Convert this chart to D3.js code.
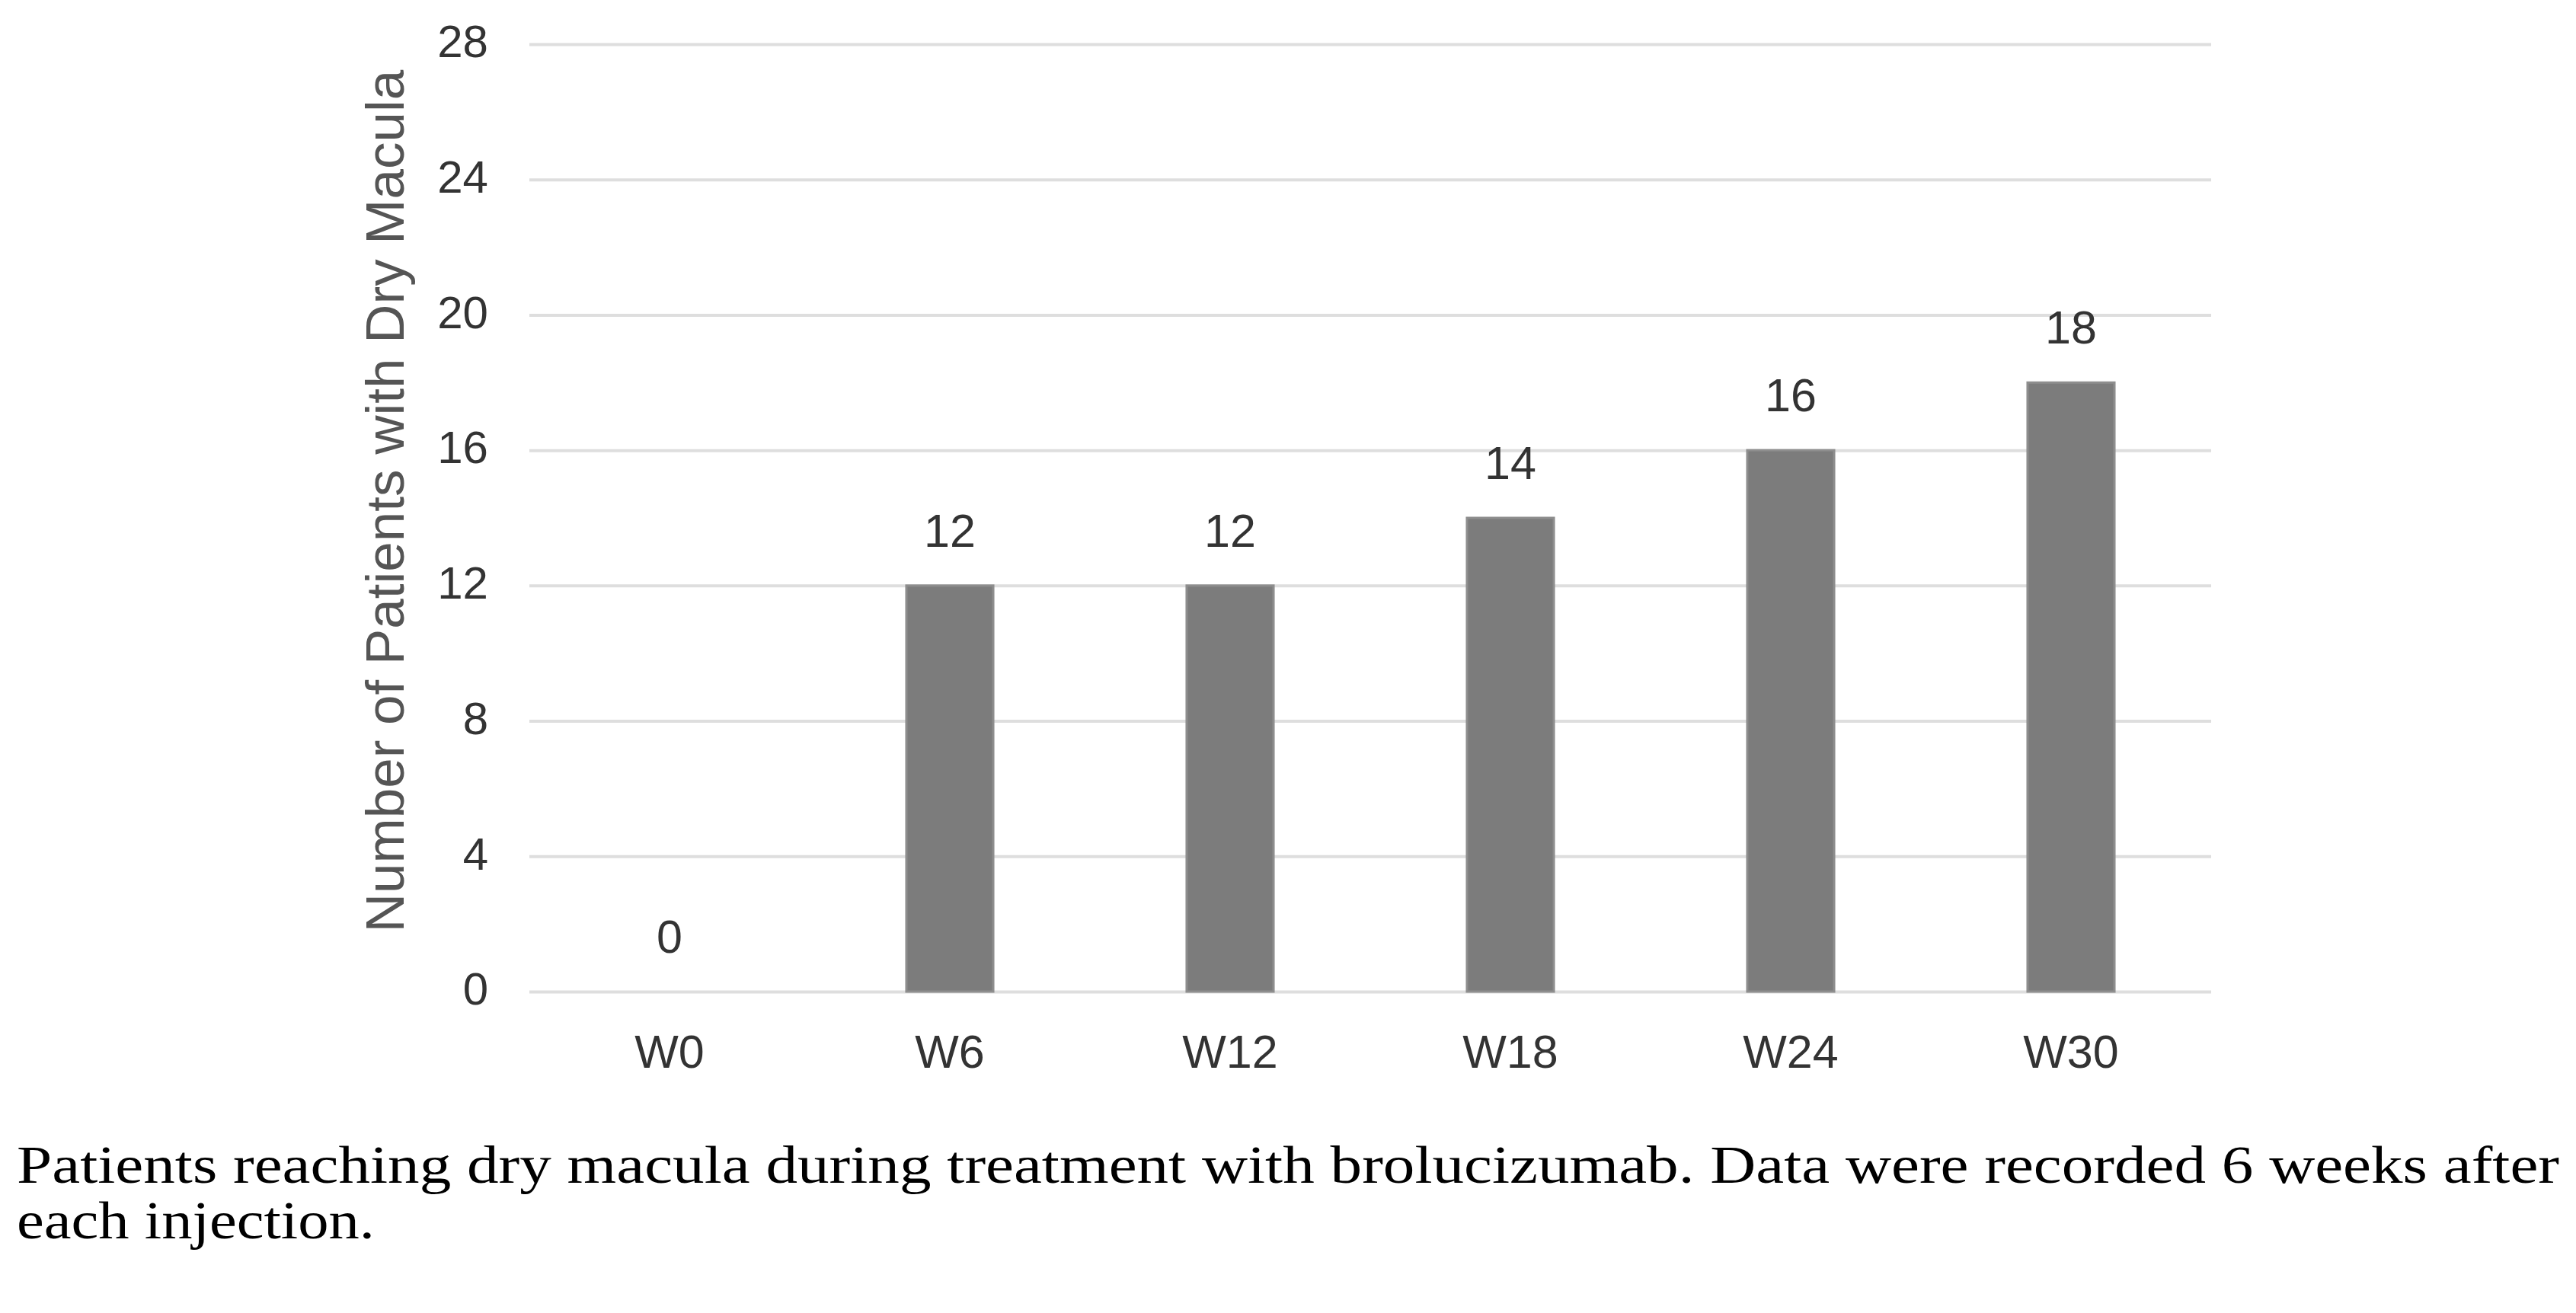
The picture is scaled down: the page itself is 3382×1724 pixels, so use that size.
<!DOCTYPE html>
<html>
<head>
<meta charset="utf-8">
<script src="https://cdn.jsdelivr.net/npm/d3@7"></script>
<style>
  html, body { margin: 0; padding: 0; background: #fff; }
  svg { display: block; }
</style>
</head>
<body>
<script>
const categories = ["W0", "W6", "W12", "W18", "W24", "W30"];
const values = [0, 12, 12, 14, 16, 18];
const yTicks = [0, 4, 8, 12, 16, 20, 24, 28];
const yTitle = "Number of Patients with Dry Macula";
const captionLines = [
  "Patients reaching dry macula during treatment with brolucizumab. Data were recorded 6 weeks after",
  "each injection."
];

(function () {
const W = 3382, H = 1724;
const svg = d3.select("body").append("svg").attr("width", W).attr("height", H);

const mLeft = 695, mRight = 2903, mTop = 58, mBottom = 1302;
const sans = "Liberation Sans, Arial, sans-serif";

const x = d3.scaleBand().domain(categories).range([mLeft, mRight]).paddingInner(0.69).paddingOuter(0.345);
const y = d3.scaleLinear().domain([0, 28]).range([mBottom, mTop]);

// gridlines + y tick labels
const gAxis = svg.append("g")
  .attr("transform", `translate(${mLeft},0)`)
  .call(d3.axisLeft(y).tickValues(yTicks).tickSize(-(mRight - mLeft)).tickPadding(54).tickFormat(d3.format("d")));
gAxis.select(".domain").remove();
gAxis.selectAll(".tick line").attr("stroke", "#dedede").attr("stroke-width", 4);
gAxis.selectAll(".tick text")
  .attr("font-family", sans)
  .attr("font-size", 60)
  .attr("dy", "0.28em")
  .attr("fill", "#333");

// bars
svg.append("g").selectAll("rect")
  .data(values)
  .join("rect")
  .attr("x", (d, i) => x(categories[i]))
  .attr("width", x.bandwidth())
  .attr("y", d => y(d))
  .attr("height", d => y(0) - y(d))
  .attr("fill", "#7c7c7c")
  .attr("stroke", "#8e8e8e")
  .attr("stroke-width", 3);

// value labels
svg.append("g").selectAll("text")
  .data(values)
  .join("text")
  .attr("x", (d, i) => x(categories[i]) + x.bandwidth() / 2)
  .attr("y", d => y(d) - 51)
  .attr("text-anchor", "middle")
  .attr("font-family", sans)
  .attr("font-size", 61)
  .attr("fill", "#333")
  .text(d => d);

// x axis labels
const gx = svg.append("g")
  .attr("transform", `translate(0,${mBottom})`)
  .call(d3.axisBottom(x).tickSize(0).tickPadding(57));
gx.select(".domain").remove();
gx.selectAll(".tick text")
  .attr("font-family", sans)
  .attr("font-size", 61)
  .attr("fill", "#333");

// y title
svg.append("text")
  .attr("transform", `translate(505,${(82 + 1234) / 2}) rotate(-90)`)
  .attr("text-anchor", "middle")
  .attr("dy", "0.35em")
  .attr("font-family", sans)
  .attr("font-size", 71)
  .attr("fill", "#555")
  .text(yTitle);

// caption
const capLens = [3338, 470];
svg.append("g").selectAll("text")
  .data(captionLines)
  .join("text")
  .attr("x", 22)
  .attr("y", (d, i) => 1553 + i * 73)
  .attr("font-family", "Liberation Serif, Times New Roman, serif")
  .attr("font-size", 70)
  .attr("fill", "#000")
  .attr("textLength", (d, i) => capLens[i])
  .attr("lengthAdjust", "spacingAndGlyphs")
  .text(d => d);
})();
</script>
</body>
</html>
